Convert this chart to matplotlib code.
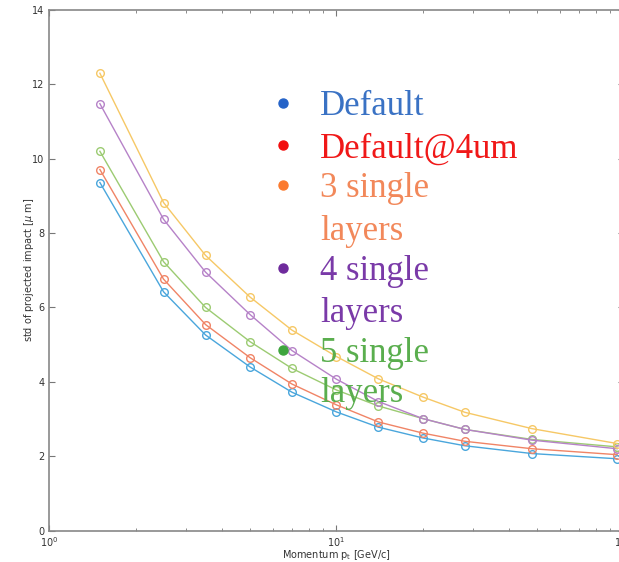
import numpy as np
import matplotlib.pyplot as plt
from matplotlib.ticker import LogLocator, NullFormatter

# momentum values [GeV/c]
p = [1.5, 2.5, 3.5, 5, 7, 10, 14, 20, 28, 48, 95]

# std of projected impact [um]
default = [9.36, 6.42, 5.26, 4.40, 3.72, 3.19, 2.78, 2.49, 2.28, 2.07, 1.93]
default_4um = [9.71, 6.76, 5.54, 4.65, 3.94, 3.38, 2.92, 2.62, 2.40, 2.20, 2.04]
single3 = [10.20, 7.23, 6.00, 5.08, 4.36, 3.78, 3.35, 3.01, 2.72, 2.45, 2.25]
single4 = [11.48, 8.37, 6.95, 5.81, 4.84, 4.07, 3.47, 3.01, 2.72, 2.43, 2.20]
single5 = [12.30, 8.82, 7.40, 6.28, 5.39, 4.68, 4.08, 3.59, 3.18, 2.74, 2.34]

series = [default, default_4um, single3, single4, single5]
line_colors = ['#4aa6dc', '#f08466', '#9ccb72', '#b682c8', '#f6c866']

legend_labels = ['Default', 'Default@4um', '3 single\nlayers', '4 single\nlayers', '5 single\nlayers']
legend_dot_colors = ['#2563c8', '#f20d0d', '#fb7a2e', '#6e2a9c', '#3ea53e']
legend_text_colors = ['#3a72c4', '#f01818', '#f2885a', '#7a3aa8', '#5aae4e']

fig = plt.figure(figsize=(6.19, 5.62), dpi=100)
ax = fig.add_axes([0.0797, 0.056, 0.9276, 0.9262])

for ys, c in zip(series, line_colors):
    ax.plot(p, ys, '-o', color=c, lw=1.0, ms=5.5, mfc='none', mec=c, mew=1.0)

ax.set_xscale('log')
ax.set_xlim(1, 100)
ax.set_ylim(0, 14)
ax.set_yticks(range(0, 15, 2))
ax.xaxis.set_minor_locator(LogLocator(base=10, subs=np.arange(2, 10)))
ax.xaxis.set_minor_formatter(NullFormatter())

ax.tick_params(which='both', direction='in', top=True, right=True, colors='#777777',
               labelcolor='#333333', labelsize=7)
ax.tick_params(which='major', length=4)
ax.tick_params(which='minor', length=2.5)
for s in ax.spines.values():
    s.set_color('#888888')
    s.set_linewidth(1.2)

ax.set_xlabel('Momentum p$_\\mathregular{t}$ [GeV/c]', fontsize=7, color='#333333', labelpad=-1)
ax.set_ylabel('std of projected impact [$\\mu$ m]', fontsize=7, color='#333333', labelpad=-3)

# legend drawn as text lines in the upper middle area (one baseline per line)
baselines = [0.798, 0.717, 0.640, 0.558, 0.481, 0.400, 0.323, 0.246]
k = 0
for lab, dc, tc in zip(legend_labels, legend_dot_colors, legend_text_colors):
    parts = lab.split('\n')
    ax.plot([0.407], [baselines[k] + 0.023], 'o', color=dc, ms=6.5,
            transform=ax.transAxes, clip_on=False)
    for part in parts:
        ax.text(0.471, baselines[k], part, transform=ax.transAxes, color=tc,
                fontsize=25, family='Liberation Serif', va='baseline', ha='left')
        k += 1

fig.savefig('out.png', dpi=100)
